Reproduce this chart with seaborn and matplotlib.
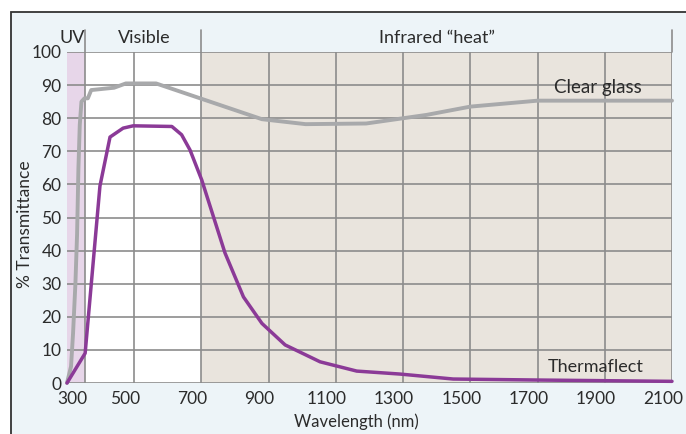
import matplotlib
matplotlib.use("Agg")
import matplotlib.pyplot as plt
import matplotlib.transforms as mtransforms
from matplotlib.patches import Rectangle
import seaborn as sns
import pandas as pd

# ---- data ----
glass_wl = [300, 312, 318, 325, 330, 334, 338, 343, 352, 362, 372, 420, 440, 475, 565,
            880, 1010, 1190, 1370, 1500, 1700, 2100]
glass_t = [0, 5, 15, 30, 45, 65, 78, 85, 86, 86, 88.5, 89, 89.2, 90.5, 90.5,
           79.7, 78.2, 78.4, 81, 83.5, 85.3, 85.3]
thermo_wl = [300, 354, 398, 428, 467, 497, 612, 641, 666, 701, 770, 825, 880, 949,
             1053, 1162, 1291, 1449, 1698, 2100]
thermo_t = [0, 9, 59.5, 74.3, 77, 77.7, 77.5, 75, 70.4, 61.3, 39.3, 26, 18, 11.5,
            6.4, 3.6, 2.7, 1.2, 0.9, 0.5]
x_ticks = [300, 500, 700, 900, 1100, 1300, 1500, 1700, 1900, 2100]
y_ticks = [0, 10, 20, 30, 40, 50, 60, 70, 80, 90, 100]
region_edges = [300, 355, 700, 2100]
region_names = ["UV", "Visible", "Infrared \u201cheat\u201d"]
series_names = ["Clear glass", "Thermaflect"]

df = pd.concat([
    pd.DataFrame({"wl": glass_wl, "t": glass_t, "series": series_names[0]}),
    pd.DataFrame({"wl": thermo_wl, "t": thermo_t, "series": series_names[1]}),
])

sns.set_theme(style="white")
plt.rcParams["font.family"] = ["Lato", "DejaVu Sans"]
txt = "#2b2b2b"

fig = plt.figure(figsize=(6.86, 4.34), dpi=100)
fig.patch.set_facecolor("white")
fig.patches.append(Rectangle((11 / 686, -0.05), 1.0, 1 - 12 / 434 + 0.05,
                             transform=fig.transFigure, facecolor="#EDF4F8",
                             edgecolor="#333333", linewidth=1.3, zorder=-10))
ax = fig.add_axes([67 / 686, 1 - 383 / 434, 605 / 686, 331 / 434])
ax.set_zorder(5)
ax.set_facecolor("none")

region_colors = ["#E7D6E9", "#FFFFFF", "#E9E4DD"]
for i in range(3):
    ax.axvspan(region_edges[i], region_edges[i + 1], color=region_colors[i], lw=0, zorder=0)

grid_c = "#8C8C8C"
ax.hlines(y_ticks, region_edges[0], region_edges[-1], color=grid_c, lw=1.2, zorder=1)
vx = sorted(set(x_ticks[1:] + region_edges[1:]))
ax.vlines(vx, 0, 100, color=grid_c, lw=1.2, zorder=1)

palette = {series_names[0]: "#A8A9AB", series_names[1]: "#8B3A97"}
sns.lineplot(data=df, x="wl", y="t", hue="series", palette=palette, ax=ax,
             legend=False, sort=False, linewidth=2.8, zorder=3)
for ln in ax.lines:
    ln.set_clip_on(False)
    ln.set_solid_joinstyle("round")
ax.lines[1].set_linewidth(2.5)

ax.set_xlim(region_edges[0], region_edges[-1])
ax.set_ylim(0, 100)
for s in ax.spines.values():
    s.set_visible(False)
ax.set_xticks(x_ticks)
ax.set_yticks(y_ticks)
ax.tick_params(axis="both", length=0, labelsize=12.5, colors=txt)
ax.tick_params(axis="x", pad=6)
ax.tick_params(axis="y", pad=4)
for i, lab in enumerate(ax.get_xticklabels()):
    dx = 5 if i == 0 else -9
    lab.set_transform(lab.get_transform() +
                      mtransforms.ScaledTranslation(dx / 100, 0, fig.dpi_scale_trans))
ax.set_xlabel("")
ax.set_ylabel("")

fig.text(356 / 686, 1 - 422 / 434, "Wavelength (nm)", ha="center", va="center",
         fontsize=12, color=txt)
fig.text(25 / 686, 1 - 224 / 434, "% Transmittance", ha="center", va="center",
         rotation=90, fontsize=12.5, color=txt)

# header band
btrans = mtransforms.blended_transform_factory(ax.transData, ax.transAxes)
top_y = (383 - 30) / 331
for xv in region_edges[1:]:
    ax.plot([xv, xv], [1, top_y], transform=btrans, color=grid_c, lw=1.2, clip_on=False)
label_x = [315, 530, 1400]
for name, xv in zip(region_names, label_x):
    ax.text(xv, (383 - 38) / 331, name, transform=btrans, ha="center", va="center",
            fontsize=13, color=txt)

ax.text(1880, 89.4, series_names[0], ha="center", va="center", fontsize=13.5, color=txt)
ax.text(1874, 4.8, series_names[1], ha="center", va="center", fontsize=13, color=txt)

fig.savefig("out.png", dpi=100)
